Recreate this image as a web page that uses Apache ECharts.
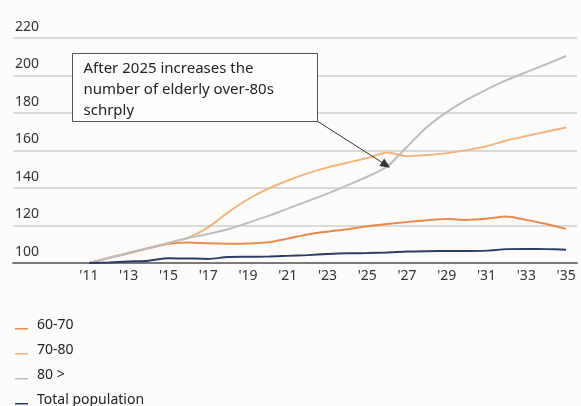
<!DOCTYPE html>
<html>
<head>
<meta charset="utf-8">
<script src="https://cdn.jsdelivr.net/npm/echarts@6/dist/echarts.min.js"></script>
<style>
  html, body { margin: 0; padding: 0; background: #fdfcfa; }
  #chart { width: 581px; height: 406px; }
</style>
</head>
<body>
<div id="chart"></div>
<script>
// Population index by age group, 2011 = 100
const years = [2011, 2012, 2013, 2014, 2015, 2016, 2017, 2018, 2019, 2020, 2021, 2022, 2023,
               2024, 2025, 2026, 2027, 2028, 2029, 2030, 2031, 2032, 2033, 2034, 2035];
const age60to70 = [100, 102.6, 105.2, 107.8, 110.2, 111, 110.5, 110.3, 110.4, 111, 113, 115.2, 116.7,
                   118, 119.6, 120.8, 121.8, 122.8, 123.5, 123, 123.6, 124.8, 123, 120.8, 118.2];
const age70to80 = [100, 102.8, 105.4, 108, 110.6, 113.5, 119, 127, 134, 139.5, 144, 147.8, 151,
                   153.5, 156, 159, 157, 157.6, 158.6, 160.2, 162.3, 165.3, 167.7, 170, 172.3];
const age80plus = [100, 102.7, 105.3, 108, 110.7, 113.3, 115.5, 118, 121.5, 125, 129, 133, 137,
                   141.5, 146, 151.5, 162, 172.5, 180.5, 187, 192.5, 197.5, 201.8, 206, 210.4];
const totalPop = [100, 100.3, 100.8, 101.2, 102.6, 102.4, 102.2, 103.2, 103.3, 103.4, 103.8, 104.2, 104.8,
                  105.2, 105.3, 105.6, 106.1, 106.3, 106.4, 106.4, 106.6, 107.4, 107.5, 107.4, 107.1];
const seriesNames = ['60-70', '70-80', '80 >', 'Total population'];
const seriesColors = ['#e6894d', '#f2b47d', '#bdbdbd', '#2b3c68'];
const yTicks = [100, 120, 140, 160, 180, 200, 220];
const xLabelYears = [2011, 2013, 2015, 2017, 2019, 2021, 2023, 2025, 2027, 2029, 2031, 2033, 2035];

// Callout: text, box corners and arrow ends in data units (year, index)
const noteLines = ['After 2025 increases the', 'number of elderly over-80s', 'schrply'];
const noteBox = [[2010.15, 212], [2022.45, 175.8]];
const noteArrow = [[2022.42, 176.1], [2025.94, 152.3]];

const FONT = 'Noto Sans';
const allValues = [age60to70, age70to80, age80plus, totalPop];

// Legend marker: short line sitting near the text baseline
const legendIcon = 'path://M0,0L0.01,0L0,0.01Z M17,12L17.01,12L17,11.99Z M0,9L13,9L13,10.6L0,10.6Z';

const chart = echarts.init(document.getElementById('chart'), null, { renderer: 'canvas' });

const series = seriesNames.map((name, i) => ({
  name: name,
  type: 'line',
  data: years.map((y, k) => [y, allValues[i][k]]),
  showSymbol: false,
  smooth: 0.25,
  color: seriesColors[i],
  lineStyle: { width: 2, color: seriesColors[i] },
  z: 3 + i,
  silent: true
}));

series[2].markLine = {
  silent: true,
  symbol: ['none', 'triangle'],
  symbolSize: [9, 10],
  label: { show: false },
  lineStyle: { color: '#333', width: 1, type: 'solid' },
  data: [[{ coord: noteArrow[0] }, { coord: noteArrow[1] }]],
  z: 10
};

chart.setOption({
  backgroundColor: '#fdfcfa',
  animation: false,
  textStyle: { fontFamily: FONT },
  grid: { left: 13, right: 4, top: 38, bottom: 143 },
  xAxis: {
    type: 'value',
    min: 2007.18,
    max: 2035.55,
    axisLine: { show: true, lineStyle: { color: '#7a7a7a', width: 2 } },
    axisTick: { show: false },
    splitLine: { show: false },
    axisLabel: {
      customValues: xLabelYears,
      formatter: v => "'" + String(v).slice(2),
      color: '#333',
      fontSize: 14,
      fontFamily: FONT,
      margin: 6
    }
  },
  yAxis: {
    type: 'value',
    min: yTicks[0],
    max: yTicks[yTicks.length - 1],
    interval: 20,
    axisLine: { show: false },
    axisTick: { show: false },
    splitLine: { lineStyle: { color: '#cfcfcf', width: 1.5 } },
    axisLabel: {
      inside: true,
      margin: 2,
      verticalAlign: 'bottom',
      padding: [0, 0, 4, 0],
      color: '#333',
      fontSize: 14,
      fontFamily: FONT
    }
  },
  legend: {
    orient: 'vertical',
    left: 15,
    top: 318,
    height: 120,
    padding: 0,
    itemWidth: 17,
    itemHeight: 12,
    itemGap: 11,
    icon: legendIcon,
    data: seriesNames,
    selectedMode: false,
    textStyle: { color: '#222', fontSize: 14, fontFamily: FONT }
  },
  series: series
});

// Place the callout box using the chart's own coordinate conversion
function drawNote() {
  const p0 = chart.convertToPixel({ gridIndex: 0 }, noteBox[0]);
  const p1 = chart.convertToPixel({ gridIndex: 0 }, noteBox[1]);
  const x = Math.round(p0[0]) + 0.5, y = Math.round(p0[1]) + 0.5;
  const w = Math.round(p1[0] - p0[0]), h = Math.round(p1[1] - p0[1]);
  chart.setOption({
    graphic: [
      {
        type: 'rect',
        shape: { x: x, y: y, width: w, height: h },
        style: { fill: '#fefefe', stroke: '#555', lineWidth: 1 },
        z: 20
      },
      {
        type: 'text',
        x: x + 11,
        y: y + 5,
        style: {
          text: noteLines.join('\n'),
          fill: '#222',
          font: '15px "' + FONT + '"',
          lineHeight: 21,
          textAlign: 'left',
          textVerticalAlign: 'top'
        },
        z: 21
      }
    ]
  });
}
drawNote();
</script>
</body>
</html>
